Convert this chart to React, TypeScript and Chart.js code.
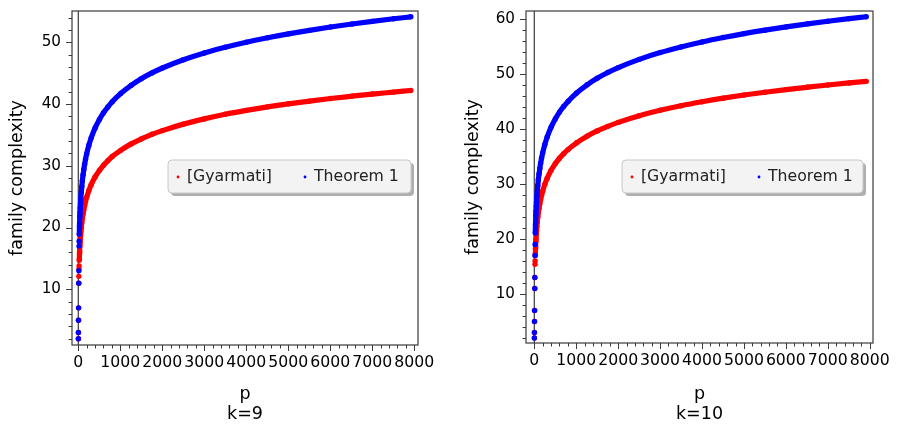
import React, { useEffect, useRef } from "react";
import { Chart, registerables } from "chart.js";
Chart.register(...registerables);

// ---- data ----
const P_VALUES = [2, 3, 5, 7, 11, 13, 17, 19, 23, 29, 31, 37, 41, 47, 53, 61, 71, 83, 97, 113, 131, 151, 173, 199, 251, 307, 401, 503, 601, 701, 809, 1009, 1259, 1499, 1753, 2003, 2503, 3001, 3499, 4001, 4507, 5003, 5503, 6007, 6521, 7001, 7507, 7919];

const GYARMATI_K9 = [2, 3, 5, 7, 11, 12.1, 13.3, 13.8, 14.7, 15.8, 16.1, 17.0, 17.5, 18.1, 18.7, 19.3, 20.0, 20.8, 21.5, 22.2, 22.9, 23.6, 24.25, 24.9, 26.0, 26.95, 28.2, 29.25, 30.1, 30.8, 31.5, 32.5, 33.55, 34.35, 35.1, 35.7, 36.75, 37.6, 38.35, 38.98, 39.55, 40.04, 40.48, 40.9, 41.28, 41.62, 41.94, 42.2];
const THEOREM1_K9 = [2, 3, 5, 7, 11, 13, 17, 17.8, 18.9, 20.3, 20.7, 21.8, 22.4, 23.2, 23.9, 24.8, 25.7, 26.6, 27.6, 28.5, 29.4, 30.25, 31.07, 31.92, 33.32, 34.53, 36.14, 37.51, 38.59, 39.51, 40.38, 41.71, 43.04, 44.1, 45.04, 45.84, 47.18, 48.28, 49.2, 50.01, 50.73, 51.36, 51.94, 52.47, 52.96, 53.39, 53.81, 54.13];
const GYARMATI_K10 = [2, 3, 5, 7, 11, 13, 15.4, 16.0, 17.0, 18.3, 18.6, 19.6, 20.1, 20.9, 21.5, 22.3, 23.1, 24.0, 24.8, 25.6, 26.4, 27.2, 27.93, 28.69, 29.95, 31.04, 32.49, 33.72, 34.68, 35.52, 36.29, 37.49, 38.69, 39.64, 40.48, 41.2, 42.41, 43.4, 44.23, 44.95, 45.6, 46.17, 46.68, 47.16, 47.6, 47.99, 48.37, 48.66];
const THEOREM1_K10 = [2, 3, 5, 7, 11, 13, 17, 19, 21.1, 22.7, 23.1, 24.3, 25.0, 25.9, 26.7, 27.67, 28.69, 29.74, 30.79, 31.81, 32.81, 33.76, 34.68, 35.62, 37.18, 38.54, 40.34, 41.87, 43.07, 44.1, 45.06, 46.55, 48.04, 49.22, 50.27, 51.16, 52.66, 53.89, 54.92, 55.82, 56.62, 57.33, 57.97, 58.56, 59.11, 59.59, 60.06, 60.41];

const X_TICKS = [0, 1000, 2000, 3000, 4000, 5000, 6000, 7000, 8000];
const Y_TICKS_K9 = [10, 20, 30, 40, 50];
const Y_TICKS_K10 = [10, 20, 30, 40, 50, 60];
const SERIES_LABELS = ["[Gyarmati]", "Theorem 1"];
const X_TITLE = "p";
const Y_TITLE = "family complexity";
const PANEL_TITLES = ["k=9", "k=10"];

// ---- styles ----
const FONT = '"DejaVu Sans", sans-serif';
const RED = "#ff0000";
const BLUE = "#0000ff";
const FRAME = "#3a3a3a";
const LINE_START_P = 23;

type PanelCfg = {
  title: string;
  red: number[];
  blue: number[];
  yTicks: number[];
  xMin: number; xMax: number; yMin: number; yMax: number;
  width: number; left: number;
  yAxisW: number; xAxisH: number; padTop: number; padRight: number;
  yTitlePad: number; legendDX: number; legendW: number;
};

const PANELS: PanelCfg[] = [
  { title: PANEL_TITLES[0], red: GYARMATI_K9, blue: THEOREM1_K9, yTicks: Y_TICKS_K9,
    xMin: -150, xMax: 8090, yMin: 0.98, yMax: 55.07,
    width: 450, left: 0, yAxisW: 72, xAxisH: 82, padTop: 11, padRight: 32,
    yTitlePad: 6.5, legendDX: 96, legendW: 243 },
  { title: PANEL_TITLES[1], red: GYARMATI_K10, blue: THEOREM1_K10, yTicks: Y_TICKS_K10,
    xMin: -198, xMax: 8079, yMin: 1.09, yMax: 61.45,
    width: 447, left: 450, yAxisW: 76, xAxisH: 84, padTop: 11, padRight: 24,
    yTitlePad: 12.5, legendDX: 96, legendW: 241 },
];

function zeroPad(s: any) {
  s.paddingTop = 0;
  s.paddingBottom = 0;
  s.paddingLeft = 0;
  s.paddingRight = 0;
}

function Panel({ cfg }: { cfg: PanelCfg }) {
  const ref = useRef<HTMLCanvasElement>(null);
  useEffect(() => {
    const canvas = ref.current!;
    const mk = (label: string, vals: number[], color: string, order: number) => ({
      label,
      data: P_VALUES.map((x, i) => ({ x, y: vals[i] })),
      showLine: true,
      borderColor: color,
      backgroundColor: color,
      borderWidth: 5.2,
      pointRadius: 2.7,
      pointHoverRadius: 2.7,
      pointBorderWidth: 0,
      cubicInterpolationMode: "monotone",
      order,
      segment: {
        borderColor: (c: any) => (c.p0.parsed.x < LINE_START_P ? "rgba(0,0,0,0)" : color),
      },
    });

    const decor = {
      id: "decor",
      beforeDatasetsDraw(chart: any) {
        const { ctx, chartArea: a, scales } = chart;
        const x0 = scales.x.getPixelForValue(0);
        ctx.save();
        ctx.strokeStyle = FRAME;
        ctx.lineWidth = 1.2;
        ctx.beginPath();
        ctx.moveTo(x0, a.top);
        ctx.lineTo(x0, a.bottom);
        ctx.stroke();
        ctx.restore();
      },
      afterDraw(chart: any) {
        const { ctx, chartArea: a, scales } = chart;
        ctx.save();
        ctx.strokeStyle = FRAME;
        ctx.lineWidth = 1.2;
        ctx.strokeRect(a.left, a.top, a.right - a.left, a.bottom - a.top);
        ctx.lineWidth = 1;
        ctx.beginPath();
        for (let v = Math.ceil(cfg.yMin / 2) * 2; v <= cfg.yMax; v += 2) {
          const py = Math.round(scales.y.getPixelForValue(v)) + 0.5;
          const len = v % 10 === 0 ? 6 : 3.5;
          ctx.moveTo(a.left - len, py);
          ctx.lineTo(a.left, py);
        }
        for (let v = Math.ceil(cfg.xMin / 200) * 200; v <= cfg.xMax; v += 200) {
          const px = Math.round(scales.x.getPixelForValue(v)) + 0.5;
          const len = v % 1000 === 0 ? 6 : 3.5;
          ctx.moveTo(px, a.bottom);
          ctx.lineTo(px, a.bottom + len);
        }
        ctx.stroke();

        // legend
        const bx = a.left + cfg.legendDX, by = 160, bw = cfg.legendW, bh = 33;
        ctx.fillStyle = "rgba(110,110,110,0.55)";
        ctx.beginPath();
        (ctx as any).roundRect(bx + 3, by + 3, bw, bh, 4);
        ctx.fill();
        ctx.fillStyle = "#f3f3f3";
        ctx.beginPath();
        (ctx as any).roundRect(bx, by, bw, bh, 4);
        ctx.fill();
        ctx.strokeStyle = "#c8c8c8";
        ctx.lineWidth = 1;
        ctx.stroke();
        ctx.font = `15.7px ${FONT}`;
        ctx.textBaseline = "middle";
        chart.data.datasets.forEach((ds: any, i: number) => {
          const ox = bx + (i === 0 ? 10 : 137);
          const cy = by + 17;
          ctx.fillStyle = ds.borderColor;
          ctx.beginPath();
          ctx.arc(ox, cy, 1.4, 0, Math.PI * 2);
          ctx.fill();
          ctx.fillStyle = "#222";
          ctx.fillText(ds.label, ox + 9, cy);
        });
        ctx.restore();
      },
    };

    const chart = new Chart(canvas, {
      type: "scatter",
      data: {
        datasets: [
          mk(SERIES_LABELS[0], cfg.red, RED, 2),
          mk(SERIES_LABELS[1], cfg.blue, BLUE, 1),
        ] as any,
      },
      options: {
        animation: false,
        responsive: false,
        events: [],
        layout: { padding: { top: cfg.padTop, right: cfg.padRight, left: 0, bottom: 0 } },
        plugins: { legend: { display: false }, tooltip: { enabled: false } },
        scales: {
          x: {
            type: "linear",
            min: cfg.xMin,
            max: cfg.xMax,
            afterFit: (s: any) => { s.height = cfg.xAxisH; zeroPad(s); },
            afterBuildTicks: (s: any) => { s.ticks = X_TICKS.map((v) => ({ value: v })); },
            grid: { display: false, drawTicks: false, tickLength: 0 },
            border: { display: false },
            ticks: {
              autoSkip: false, maxRotation: 0, padding: 9, color: "#000",
              font: { family: FONT, size: 15.7 },
              callback: (v: any) => String(v),
            },
            title: {
              display: true, text: [X_TITLE, cfg.title], color: "#000",
              font: { family: FONT, size: 17.5, lineHeight: 1.15 },
              padding: { top: 0, bottom: 2 },
            },
          },
          y: {
            type: "linear",
            min: cfg.yMin,
            max: cfg.yMax,
            afterFit: (s: any) => { s.width = cfg.yAxisW; zeroPad(s); },
            afterBuildTicks: (s: any) => { s.ticks = cfg.yTicks.map((v) => ({ value: v })); },
            grid: { display: false, drawTicks: false, tickLength: 0 },
            border: { display: false },
            ticks: {
              autoSkip: false, padding: 11, color: "#000",
              font: { family: FONT, size: 15.2 },
              callback: (v: any) => String(v),
            },
            title: {
              display: true, text: Y_TITLE, color: "#000",
              font: { family: FONT, size: 17.5, lineHeight: 1.2 },
              padding: { top: cfg.yTitlePad, bottom: 0 },
            },
          },
        },
      } as any,
      plugins: [decor],
    });
    return () => chart.destroy();
  }, [cfg]);
  return (
    <canvas
      ref={ref}
      width={cfg.width}
      height={427}
      style={{ position: "absolute", left: cfg.left, top: 0, width: cfg.width, height: 427 }}
    />
  );
}

export default function App() {
  return (
    <div style={{ position: "absolute", left: 0, top: 0, width: 897, height: 427, background: "#fff" }}>
      {PANELS.map((p, i) => (
        <Panel key={i} cfg={p} />
      ))}
    </div>
  );
}
